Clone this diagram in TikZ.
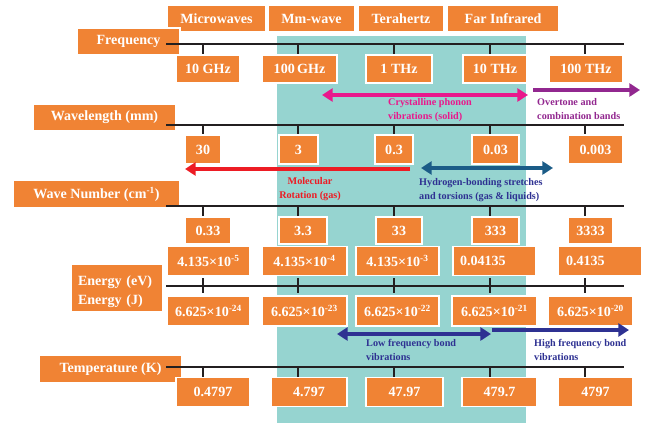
\documentclass[tikz,border=0pt]{standalone}
\usepackage{fontspec}
\setmainfont{Liberation Serif}
\usetikzlibrary{arrows.meta}
\newlength\pxu
\setlength\pxu{0.03cm}
\definecolor{boxorange}{RGB}{240,131,52}
\definecolor{bandteal}{RGB}{150,212,208}
\definecolor{axisgray}{RGB}{35,31,32}
\definecolor{phononpink}{RGB}{233,24,140}
\definecolor{overpurple}{RGB}{146,39,143}
\definecolor{rotred}{RGB}{237,28,36}
\definecolor{hbondblue}{RGB}{27,92,135}
\definecolor{bondblue}{RGB}{46,49,146}
\newcommand{\boxfont}{\bfseries\fontsize{12}{14}\selectfont}
\newcommand{\notefont}{\bfseries\fontsize{8.7}{12}\selectfont}

\begin{document}
\begin{tikzpicture}[x=0.03cm,y=-0.03cm]
	\tikzset{vbox/.style={rectangle,fill=boxorange,draw=white,line width=1.5pt,text=white,font=\boxfont,inner sep=0pt}}
	\tikzset{axisline/.style={draw=axisgray,line width=2.3pt}}
	\tikzset{tickline/.style={draw=axisgray,line width=1.7pt}}
	\tikzset{notetext/.style={font=\notefont,inner sep=0pt,align=left,anchor=west}}
	\tikzset{onearrow/.style={line width=3pt,-{Triangle[length=9pt,width=11pt]}}}
	\tikzset{twoarrow/.style={line width=3pt,{Triangle[length=9pt,width=11pt]}-{Triangle[length=9pt,width=11pt]}}}
	
	\useasboundingbox (0,0) rectangle (654,423);
	
	% Shaded terahertz band
	\fill[bandteal] (277,36) rectangle (526,423);
	
	% Band names on top
	\node[vbox,minimum width=99\pxu,minimum height=27\pxu] (mw) at (216.5,18.5) {Microwaves};
	\node[vbox,minimum width=87\pxu,minimum height=27\pxu] (mm) at (311.5,18.5) {Mm-wave};
	\node[vbox,minimum width=86\pxu,minimum height=27\pxu] (thz) at (401,18.5) {Terahertz};
	\node[vbox,minimum width=112\pxu,minimum height=27\pxu] (fir) at (503,18.5) {Far Infrared};
	
	% Row labels
	\node[vbox,minimum width=103\pxu,minimum height=27\pxu] (freq) at (128.5,41.5) {Frequency};
	\node[vbox,minimum width=143\pxu,minimum height=27\pxu] (wave) at (104.5,117.5) {Wavelength (mm)};
	\node[vbox,minimum width=167\pxu,minimum height=27\pxu] (wnum) at (96.5,194) {Wave Number (cm\textsuperscript{-1})};
	\node[vbox,minimum width=92\pxu,minimum height=48\pxu,text width=78\pxu,align=left,font=\bfseries\fontsize{12}{16}\selectfont] (energy) at (117,288) {\rule{0pt}{15pt}Energy (eV)\\Energy (J)};
	\node[vbox,minimum width=143\pxu,minimum height=28\pxu] (temp) at (110.5,369) {Temperature (K)};
	
	% Axis lines
	\coordinate (fa) at (166,44);  \coordinate (fb) at (624,44);
	\coordinate (wa) at (166,125); \coordinate (wb) at (624,125);
	\coordinate (na) at (166,206); \coordinate (nb) at (624,206);
	\coordinate (ea) at (166,286); \coordinate (eb) at (624,286);
	\coordinate (ta) at (166,367); \coordinate (tb) at (624,367);
	\draw[axisline] (fa) -- (fb);
	\draw[axisline] (wa) -- (wb);
	\draw[axisline] (na) -- (nb);
	\draw[axisline] (ea) -- (eb);
	\draw[axisline] (ta) -- (tb);
	
	% Tick columns
	\coordinate (col1) at (203,0);
	\coordinate (col2) at (298,0);
	\coordinate (col3) at (394,0);
	\coordinate (col4) at (490,0);
	\coordinate (col5) at (585,0);
	
	% Frequency values
	\node[vbox,minimum width=64\pxu,minimum height=28\pxu] (f1) at (208,69) {10 GHz};
	\node[vbox,minimum width=75\pxu,minimum height=28\pxu] (f2) at (299.5,69) {100\,GHz};
	\node[vbox,minimum width=66\pxu,minimum height=28\pxu] (f3) at (399,69) {1 THz};
	\node[vbox,minimum width=64\pxu,minimum height=28\pxu] (f4) at (495,69) {10 THz};
	\node[vbox,minimum width=74\pxu,minimum height=28\pxu] (f5) at (586,69) {100 THz};
	
	% Wavelength values
	\node[vbox,minimum width=36\pxu,minimum height=29\pxu] (w1) at (203,149.5) {30};
	\node[vbox,minimum width=39\pxu,minimum height=29\pxu] (w2) at (298.5,149.5) {3};
	\node[vbox,minimum width=38\pxu,minimum height=29\pxu] (w3) at (394,149.5) {0.3};
	\node[vbox,minimum width=47\pxu,minimum height=29\pxu] (w4) at (495.5,149.5) {0.03};
	\node[vbox,minimum width=55\pxu,minimum height=29\pxu] (w5) at (595.5,149.5) {0.003};
	
	% Wave number values
	\node[vbox,minimum width=46\pxu,minimum height=27\pxu] (n1) at (208,230.5) {0.33};
	\node[vbox,minimum width=48\pxu,minimum height=27\pxu] (n2) at (303,230.5) {3.3};
	\node[vbox,minimum width=46\pxu,minimum height=27\pxu] (n3) at (399,230.5) {33};
	\node[vbox,minimum width=47\pxu,minimum height=27\pxu] (n4) at (495.5,230.5) {333};
	\node[vbox,minimum width=45\pxu,minimum height=27\pxu] (n5) at (590.5,230.5) {3333};
	
	% Energy values (eV)
	\node[vbox,minimum width=83\pxu,minimum height=29\pxu] (e1) at (208.5,261) {4.135×10\textsuperscript{-5}};
	\node[vbox,minimum width=85\pxu,minimum height=29\pxu] (e2) at (304.5,261) {4.135×10\textsuperscript{-4}};
	\node[vbox,minimum width=83\pxu,minimum height=29\pxu] (e3) at (397.5,261) {4.135×10\textsuperscript{-3}};
	\node[vbox,minimum width=83\pxu,minimum height=29\pxu,text width=69\pxu,align=left] (e4) at (494.5,261) {0.04135};
	\node[vbox,minimum width=84\pxu,minimum height=29\pxu,text width=68\pxu,align=left] (e5) at (600,261) {0.4135};
	
	% Energy values (J)
	\node[vbox,minimum width=83\pxu,minimum height=30\pxu] (j1) at (208.5,311) {6.625×10\textsuperscript{-24}};
	\node[vbox,minimum width=85\pxu,minimum height=30\pxu] (j2) at (304.5,311) {6.625×10\textsuperscript{-23}};
	\node[vbox,minimum width=83\pxu,minimum height=30\pxu] (j3) at (397.5,311) {6.625×10\textsuperscript{-22}};
	\node[vbox,minimum width=85\pxu,minimum height=30\pxu] (j4) at (494.5,311) {6.625×10\textsuperscript{-21}};
	\node[vbox,minimum width=85\pxu,minimum height=30\pxu] (j5) at (590.5,311) {6.625×10\textsuperscript{-20}};
	
	% Temperature values
	\node[vbox,minimum width=74\pxu,minimum height=29\pxu] (t1) at (213,392) {0.4797};
	\node[vbox,minimum width=76\pxu,minimum height=29\pxu] (t2) at (309,392) {4.797};
	\node[vbox,minimum width=77\pxu,minimum height=29\pxu] (t3) at (404.5,392) {47.97};
	\node[vbox,minimum width=75\pxu,minimum height=29\pxu] (t4) at (499.5,392) {479.7};
	\node[vbox,minimum width=75\pxu,minimum height=29\pxu] (t5) at (595.5,392) {4797};
	
	% Ticks from each axis to its boxes
	\foreach \i in {1,...,5}
	{
		\draw[tickline] (col\i |- fa) -- (col\i |- f\i.north);
		\draw[tickline] (col\i |- wa) -- (col\i |- w\i.north);
		\draw[tickline] (col\i |- na) -- (col\i |- n\i.north);
		\draw[tickline,shorten <=1.5pt,shorten >=1.5pt] (col\i |- e\i.south) -- (col\i |- j\i.north);
		\draw[tickline] (col\i |- ta) -- (col\i |- t\i.north);
	}
	
	% Arrow ends
	\coordinate (phA) at (322,95);  \coordinate (phB) at (528,95);
	\coordinate (ovA) at (533,90);  \coordinate (ovB) at (640,90);
	\coordinate (roA) at (410,169); \coordinate (roB) at (185,169);
	\coordinate (hbA) at (421,168); \coordinate (hbB) at (553,168);
	\coordinate (lfA) at (337,334); \coordinate (lfB) at (491,334);
	\coordinate (hfA) at (492,330); \coordinate (hfB) at (629,330);
	
	\draw[twoarrow,phononpink] (phA) -- (phB);
	\draw[onearrow,overpurple] (ovA) -- (ovB);
	\draw[onearrow,rotred] (roA) -- (roB);
	\draw[twoarrow,hbondblue] (hbA) -- (hbB);
	\draw[twoarrow,bondblue] (lfA) -- (lfB);
	\draw[onearrow,bondblue] (hfA) -- (hfB);
	
	% Notes under the arrows
	\node[notetext,text=phononpink] (phonon) at (388,110) {Crystalline phonon\\vibrations (solid)};
	\node[notetext,text=overpurple] (overtone) at (537,109) {Overtone and\\combination bands};
	\node[notetext,text=rotred,align=center,anchor=center] (rotation) at (310,189) {Molecular\\Rotation (gas)};
	\node[notetext,text=bondblue] (hbond) at (419,190) {Hydrogen-bonding stretches\\and torsions (gas \& liquids)};
	\node[notetext,text=bondblue] (lowbond) at (366,349.5) {Low frequency bond\\vibrations};
	\node[notetext,text=bondblue] (highbond) at (534,350) {High frequency bond\\vibrations};
	
\end{tikzpicture}
\end{document}
